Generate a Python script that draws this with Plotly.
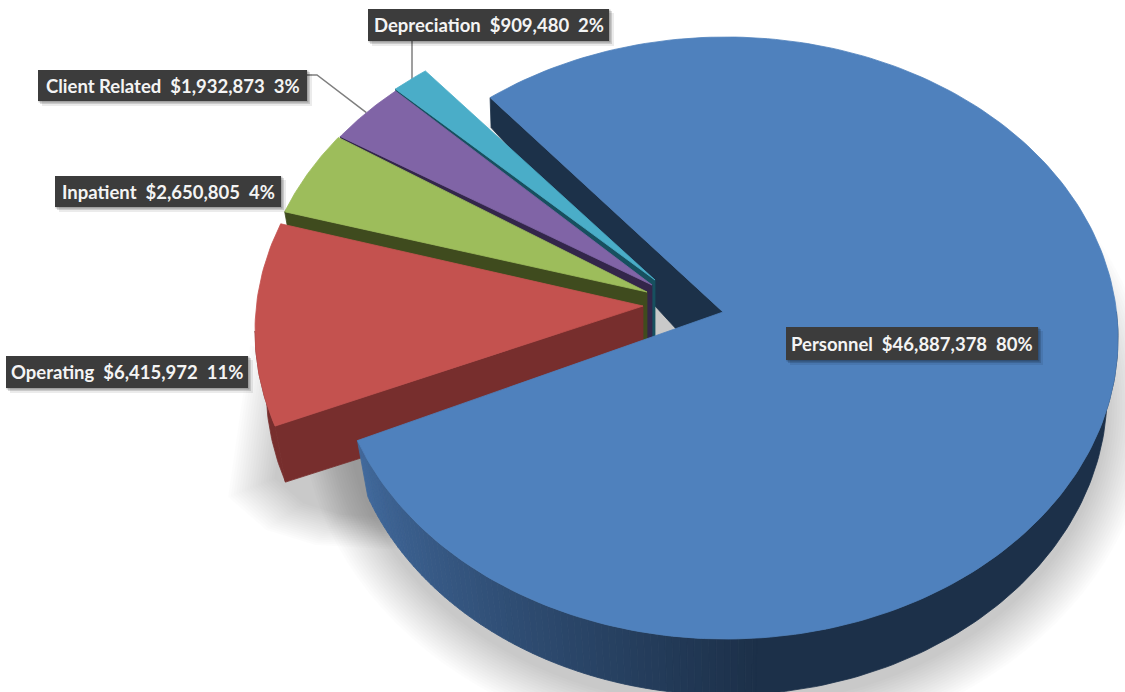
import math
import plotly.graph_objects as go

# Budget breakdown
categories = ["Personnel", "Operating", "Inpatient", "Client Related", "Depreciation"]
amounts = [46887378, 6415972, 2650805, 1932873, 909480]
percent_labels = ["80%", "11%", "4%", "3%", "2%"]
amount_labels = ["$46,887,378", "$6,415,972", "$2,650,805", "$1,932,873", "$909,480"]

# Surface and cut-face colours per slice
top_colors = ["#4f81bd", "#c4524f", "#9dbd5b", "#8064a6", "#4aadc8"]
wall_colors = ["#1c3149", "#772e2d", "#3f4b1e", "#33264a", "#17505f"]

# Projection of the tilted disc, in pixels
CENTER_X, CENTER_Y = 726, 338
RX, RY = 392, 301
RX_BASE, RY_BASE = 381, 301
DEPTH = 56
START_ANGLE = 127.0
# The exploded group sits slightly rotated by the camera perspective
GROUP_ROTATION = -1.5
# Explosion offset of each slice relative to the main centre
explode = [(0, 0), (-79, -7), (-75, -19), (-73, -20), (-73, -22)]
# Tip of each slice relative to its own ellipse centre
apex_offsets = [(-3, -26), (-4, -25), (-4, -27), (-1, -33), (2, -36)]

# Label boxes: left, top, right, bottom
label_boxes = [
    (786, 327, 1038, 360),
    (6, 356, 248, 388),
    (55, 176, 281, 207),
    (38, 70, 307, 101),
    (368, 9, 609, 41),
]

# Outline of the soft shadow cast by the exploded slice
red_shadow_outline = [(250, 345), (228, 497), (266, 530), (315, 545), (400, 550), (450, 400)]
RED_SHADOW_ANCHOR = (420, 420)

total = sum(amounts)
sweeps = [a / total * 360 for a in amounts]
bounds = [START_ANGLE]
for s in sweeps:
    bounds.append(bounds[-1] - s)
# Slices after the first are described with positive angles
slice_bounds = [b + 360 + GROUP_ROTATION if k >= 1 else b for k, b in enumerate(bounds)]


def top_pt(i, t):
    dx, dy = explode[i]
    r = math.radians(t)
    return CENTER_X + dx + RX * math.cos(r), CENTER_Y + dy - RY * math.sin(r)


def base_pt(i, t):
    dx, dy = explode[i]
    r = math.radians(t)
    return CENTER_X + dx + RX_BASE * math.cos(r), CENTER_Y + dy + DEPTH - RY_BASE * math.sin(r)


def apex(i):
    dx, dy = explode[i]
    ox, oy = apex_offsets[i]
    return CENTER_X + dx + ox, CENTER_Y + dy + oy


def arc(fn, i, t0, t1, n=80):
    return [fn(i, t0 + (t1 - t0) * k / n) for k in range(n + 1)]


fig = go.Figure()


def poly(points, color, line=True):
    xs = [p[0] for p in points] + [points[0][0]]
    ys = [p[1] for p in points] + [points[0][1]]
    fig.add_trace(go.Scatter(
        x=xs, y=ys, mode="lines", fill="toself", fillcolor=color,
        line=dict(color=color, width=0.8 if line else 0),
        hoverinfo="skip", showlegend=False,
    ))


# Soft drop shadows as stacks of translucent layers
layers = 18
for k in range(layers):
    grow = 44 * (1 - k / (layers - 1))
    ring = [
        (CENTER_X + (RX_BASE + grow) * math.cos(math.radians(a)),
         CENTER_Y + DEPTH + 12 - (RY_BASE + grow) * math.sin(math.radians(a)))
        for a in range(0, 360, 3)
    ]
    poly(ring, "rgba(0,0,0,0.0125)", line=False)

for k in range(layers):
    scale = 1 - 0.24 * k / (layers - 1)
    ax0, ay0 = RED_SHADOW_ANCHOR
    poly([(ax0 + (x - ax0) * scale, ay0 + (y - ay0) * scale) for x, y in red_shadow_outline],
         "rgba(0,0,0,0.0125)", line=False)

# Leader lines for the two narrow slices
for i, elbow in ((3, (317, 75)), (4, (412, 41))):
    box = label_boxes[i]
    mid = top_pt(i, (slice_bounds[i] + slice_bounds[i + 1]) / 2)
    if i == 3:
        xs, ys = [box[2], elbow[0], mid[0]], [elbow[1], elbow[1], mid[1]]
    else:
        xs, ys = [elbow[0], elbow[0]], [elbow[1], mid[1]]
    fig.add_trace(go.Scatter(x=xs, y=ys, mode="lines",
                             line=dict(color="#7f7f7f", width=1.5),
                             hoverinfo="skip", showlegend=False))

# Cut face of the large slice seen through the gap
ax, ay = apex(0)
p0 = top_pt(0, bounds[0])
p1 = (p0[0] + 1, p0[1] + 30)
poly([p0, (ax, ay), (ax, ay + 68), p1], wall_colors[0])

# Exploded slices, back to front
for i in (4, 3, 2, 1):
    t_start, t_end = slice_bounds[i], slice_bounds[i + 1]
    ax, ay = apex(i)
    a_base = (ax, ay + DEPTH + 6)
    lower = top_pt(i, t_start)
    lower_base = base_pt(i, t_start)
    poly([(ax, ay), lower, lower_base, a_base], wall_colors[i])
    if i == 1:
        rim = arc(top_pt, i, 180, t_start, 30)
        poly(rim + arc(base_pt, i, t_start, 180, 30), wall_colors[i])
    poly([(ax, ay)] + arc(top_pt, i, t_start, t_end, 40), top_colors[i])

# Outer wall of the large slice, shaded from left to right
left_col = (0x41, 0x69, 0x9c)
right_col = (0x1c, 0x30, 0x49)
seg_start = bounds[1] + 360
steps = 70
shade_end = 275.0
for k in range(steps):
    a = seg_start + (shade_end - seg_start) * k / steps
    b = seg_start + (shade_end - seg_start) * (k + 1) / steps
    f = k / (steps - 1)
    c = tuple(round(left_col[j] + (right_col[j] - left_col[j]) * f) for j in range(3))
    poly([top_pt(0, a), top_pt(0, b), base_pt(0, b), base_pt(0, a)], "rgb(%d,%d,%d)" % c)
dark = arc(top_pt, 0, shade_end - 0.5, 365, 80)
poly(dark + arc(base_pt, 0, 365, shade_end - 0.5, 80), "rgb(28,48,73)")

# Top of the large slice
ax, ay = apex(0)
poly([(ax, ay)] + arc(top_pt, 0, bounds[0], bounds[1], 240), top_colors[0])

# Label boxes and text
shapes = []
annotations = []
for i, name in enumerate(categories):
    l, t, r, b = label_boxes[i]
    for off, alpha in ((5, 0.08), (3, 0.14), (1.5, 0.2)):
        shapes.append(dict(type="rect", xref="x", yref="y", x0=l + off - 1, y0=t + off - 1,
                           x1=r + off, y1=b + off, line=dict(width=0),
                           fillcolor="rgba(0,0,0,%g)" % alpha, layer="above"))
    shapes.append(dict(type="rect", xref="x", yref="y", x0=l, y0=t, x1=r, y1=b,
                       line=dict(width=0), fillcolor="#3c3c3c", layer="above"))
    text = "<b>%s\u00a0\u00a0%s\u00a0\u00a0%s</b>" % (name, amount_labels[i], percent_labels[i])
    annotations.append(dict(
        x=(l + r) / 2, y=(t + b) / 2, xref="x", yref="y", text=text, showarrow=False,
        xanchor="center", yanchor="middle",
        font=dict(family="Lato, Carlito, sans-serif", size=18.5, color="#f4f4f4"),
    ))

fig.update_layout(
    width=1125, height=692,
    margin=dict(l=0, r=0, t=0, b=0),
    paper_bgcolor="white", plot_bgcolor="white",
    xaxis=dict(range=[0, 1125], visible=False, fixedrange=True),
    yaxis=dict(range=[692, 0], visible=False, fixedrange=True),
    shapes=shapes, annotations=annotations, showlegend=False,
)
fig.write_html("out.html", config=dict(displayModeBar=False))
